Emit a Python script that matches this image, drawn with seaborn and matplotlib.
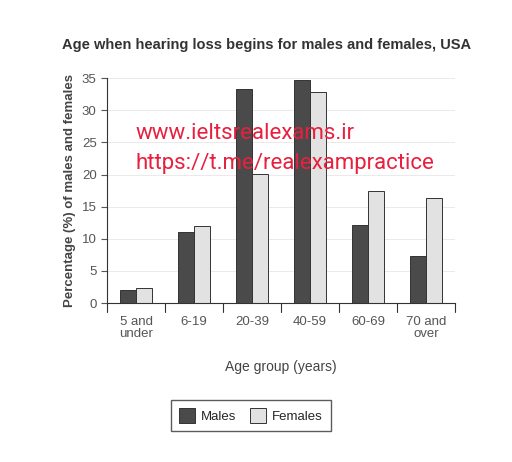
import matplotlib.pyplot as plt
import numpy as np
import pandas as pd
import seaborn as sns

age_groups = ["5 and\nunder", "6-19", "20-39", "40-59", "60-69", "70 and\nover"]
males = [2.0, 11.0, 33.3, 34.7, 12.2, 7.3]
females = [2.4, 12.0, 20.1, 32.8, 17.4, 16.4]
y_ticks = [0, 5, 10, 15, 20, 25, 30, 35]

sns.set_style("white")
plt.rcParams["font.family"] = ["Liberation Sans", "DejaVu Sans"]

df = pd.DataFrame({
    "age": age_groups * 2,
    "pct": males + females,
    "sex": ["Males"] * len(males) + ["Females"] * len(females),
})

fig = plt.figure(figsize=(5.12, 4.62), dpi=100)
ax = fig.add_axes([0.209, 0.344, 0.68, 0.487])

sns.barplot(
    data=df, x="age", y="pct", hue="sex", order=age_groups,
    palette={"Males": "#4a4a4a", "Females": "#e2e2e2"},
    width=0.56, edgecolor="#333333", linewidth=0.7, ax=ax, legend=True,
)

ax.set_ylim(0, 35)
ax.set_xlim(-0.5, len(age_groups) - 0.5)
ax.set_yticks(y_ticks)
ax.tick_params(axis="y", labelsize=9.5, colors="#555555", length=4, direction="out", left=True)
ax.grid(axis="y", color="#e6e6e6", linewidth=0.6)
ax.set_axisbelow(True)

# ticks between categories
ax.set_xticks(np.arange(len(age_groups)))
ax.set_xticklabels(age_groups, fontsize=9.5, color="#555555", linespacing=1.1)
ax.tick_params(axis="x", length=0, pad=9)
for b in np.arange(-0.5, len(age_groups), 1.0):
    ax.plot([b, b], [0, -0.04], transform=ax.get_xaxis_transform(),
            color="#333333", linewidth=0.8, clip_on=False)

for side in ["top", "right"]:
    ax.spines[side].set_visible(False)
ax.spines["left"].set_color("#333333")
ax.spines["bottom"].set_color("#333333")

ax.set_ylabel("Percentage (%) of males and females", fontsize=9.5,
              fontweight="bold", color="#444444", labelpad=4)
ax.set_xlabel("Age group (years)", fontsize=10, color="#444444", labelpad=14)

fig.text(0.52, 0.895, "Age when hearing loss begins for males and females, USA",
         ha="center", fontsize=10.5, fontweight="bold", color="#333333")

handles, labels = ax.get_legend_handles_labels()
ax.legend(handles, labels, loc="center", bbox_to_anchor=(0.49, 0.1),
          bbox_transform=fig.transFigure, ncol=2, frameon=True, fancybox=False,
          edgecolor="#333333", fontsize=9.5, handlelength=1.2, handleheight=1.4,
          columnspacing=1.0, borderpad=0.6, handletextpad=0.5)

fig.text(0.265, 0.70, "www.ieltsrealexams.ir", fontsize=16, color="#e8203f",
         family=["Roboto", "DejaVu Sans"])
fig.text(0.265, 0.635, "https://t.me/realexampractice", fontsize=16, color="#e8203f",
         family=["Roboto", "DejaVu Sans"])

fig.savefig("out.png", dpi=100)
